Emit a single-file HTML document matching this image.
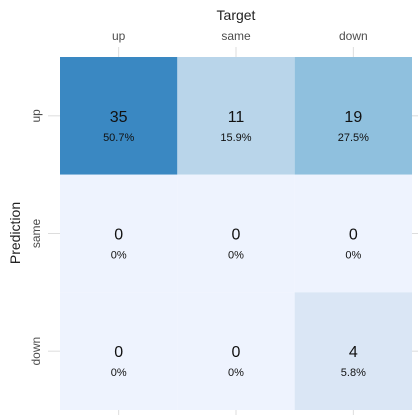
<!DOCTYPE html>
<html><head><meta charset="utf-8"><style>
body{margin:0;background:#fff;font-family:"Liberation Sans",sans-serif}
</style></head><body>
<svg id="c" width="418" height="415" xmlns="http://www.w3.org/2000/svg" font-family="Liberation Sans, sans-serif"></svg>
<script>
const targets=["up","same","down"];
const predictions=["up","same","down"];
const counts=[[35,11,19],[0,0,0],[0,0,4]];
const percents=["50.7%","15.9%","27.5%","0%","0%","0%","0%","0%","5.8%"];
const colors=["#3a88c2","#b9d5ea","#8fc0de","#eef3fe","#eef3fe","#eef3fe","#eef3fe","#eef3fe","#dae6f5"];
const svg=document.getElementById('c');const NS="http://www.w3.org/2000/svg";
const L=60,T=57,R=412,B=410;
const cw=(R-L)/targets.length,rh=(B-T)/predictions.length;
const xs=i=>L+i*cw, ys=j=>T+j*rh;
function mk(tag,a,txt){const e=document.createElementNS(NS,tag);for(const k in a)e.setAttribute(k,a[k]);if(txt!==undefined)e.textContent=txt;svg.appendChild(e);return e;}
let t=mk('text',{x:236,y:20,'text-anchor':'middle','font-size':14,fill:'#222'},'Target');


t=mk('text',{x:20,y:233,'text-anchor':'middle','font-size':14,fill:'#222',transform:'rotate(-90 20 233)'},'Prediction');


targets.forEach((c,i)=>{const cx=xs(i)+cw/2;
 let l=mk('line',{x1:cx,x2:cx,y1:47,y2:57,stroke:'#ddd'});
 
 
 l=mk('line',{x1:cx,x2:cx,y1:410,y2:415,stroke:'#ddd'});
 
 
 let e=mk('text',{x:cx,y:40,'text-anchor':'middle','font-size':12,fill:'#4d4d4d'},c);
 
 });
predictions.forEach((p,j)=>{const cy=ys(j)+rh/2;
 let l=mk('line',{x1:48,x2:60,y1:cy,y2:cy,stroke:'#ddd'});
 
 
 l=mk('line',{x1:412,x2:418,y1:cy,y2:cy,stroke:'#ddd'});
 
 
 let e=mk('text',{x:40,y:cy,'text-anchor':'middle','font-size':12,fill:'#4d4d4d',transform:`rotate(-90 40 ${cy})`},p);
 
 });
predictions.forEach((p,j)=>targets.forEach((c,i)=>{const k=j*3+i;
 let r=mk('rect',{x:xs(i),y:ys(j),width:cw,height:rh,fill:colors[k]});
 
 
 const cx=xs(i)+cw/2,cy=ys(j)+rh/2;
 let e=mk('text',{x:cx,y:cy+6,'text-anchor':'middle','font-size':16,fill:'#111'},counts[j][i]);
 
 
 e=mk('text',{x:cx,y:cy+25,'text-anchor':'middle','font-size':11,fill:'#111'},percents[k]);
 
 }));
</script>
</body></html>
